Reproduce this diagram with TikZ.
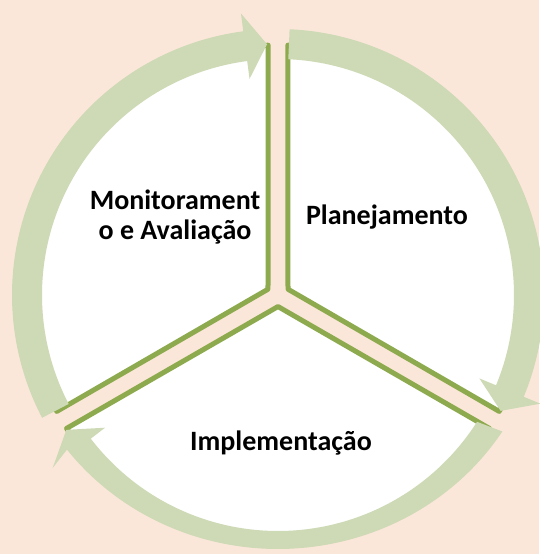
\documentclass[tikz,border=0pt]{standalone}
\usepackage{fontspec}
\setmainfont{Carlito}
\definecolor{peach}{HTML}{FBE7D9}
\definecolor{leaf}{HTML}{CDDAB5}
\definecolor{olive}{HTML}{8DAA4E}
\tikzset{
  sector/.style={fill=white, draw=olive, line width=5pt, line join=round},
  lbl/.style={font=\fontsize{28}{30}\selectfont\bfseries, align=center, inner sep=0pt}
}
\begin{document}
\begin{tikzpicture}[x=1pt,y=1pt]
    \useasboundingbox (-278,-259) rectangle (261,295);
    \fill[peach] (-278,-259) rectangle (261,295);
    % three pie pieces
    \foreach \b in {30,150,270}
       \draw[sector] (\b:11.55) -- ({\b+57.75}:250) arc[start angle={\b+57.75}, end angle={\b-57.75}, radius=250] -- cycle;
    % circular arrows
    \foreach \s/\ry in {90/266,-30/254,-150/266}{
       \pgfmathsetmacro\tl{\s-2.5}
       \pgfmathsetmacro\hb{\s-112.5}
       \pgfmathsetmacro\tp{\s-117.5}
       \fill[leaf] (\tl:266 and \ry) arc[start angle=\tl, end angle=\hb, x radius=266, y radius=\ry]
          -- (\hb:284) -- (\tp:251) -- (\hb:218) -- (\hb:236)
          arc[start angle=\hb, end angle=\tl, radius=236] -- cycle;
    }
    \node[lbl] (mon) at (-103,78) {Monitorament\\o e Avaliação};
    \node[lbl, anchor=base] (plan) at (109,70) {Planejamento};
    \node[lbl, anchor=base] (impl) at (3,-155) {Implementação};
\end{tikzpicture}
\end{document}
